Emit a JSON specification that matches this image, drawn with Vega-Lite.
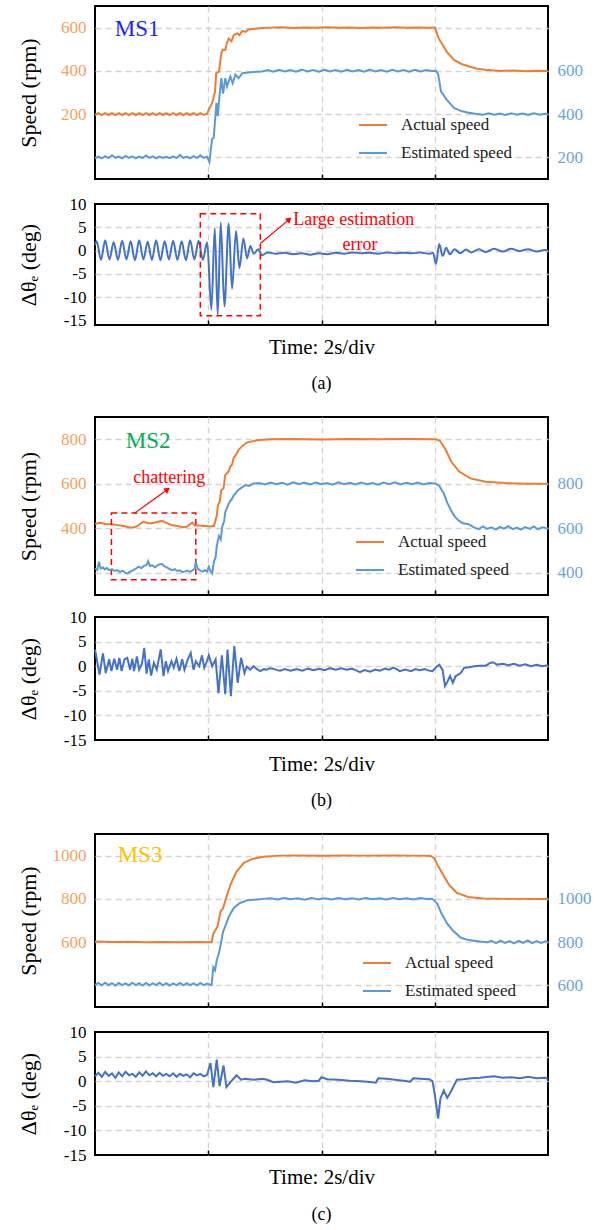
{
"$schema": "https://vega.github.io/schema/vega-lite/v6.json",
"padding": {"left": 16, "top": 5, "right": 5, "bottom": 5},
"config": {
 "font": "Liberation Serif",
 "view": {"stroke": "#000000", "strokeWidth": 2},
 "axis": {"domain": false, "ticks": false, "gridColor": "#D4D4D4", "gridDash": [6, 4], "gridWidth": 1.3, "labelFont": "Liberation Serif", "labelFontSize": 17, "labelColor": "#000000", "titleFont": "Liberation Serif", "titleFontSize": 22, "titleFontWeight": "normal", "titleColor": "#000000", "labelPadding": 9, "labelOverlap": false, "format": "d"},
 "axisX": {"ticks": true, "tickSize": -5, "tickColor": "#000000", "tickWidth": 1.5},
 "axisLeft": {"minExtent": 38, "maxExtent": 38, "titlePadding": 17},
 "legend": {"labelFont": "Liberation Serif", "labelFontSize": 17, "labelColor": "#222222", "symbolType": "stroke", "symbolSize": 784, "symbolStrokeWidth": 2, "labelOffset": 13, "rowPadding": 5, "padding": 0},
 "title": {"font": "Liberation Serif", "fontWeight": "normal", "fontSize": 18, "color": "#000000"},
 "line": {"strokeWidth": 2}
},
"datasets": {
 "aA": [{"t":0,"v":196},{"t":0.06,"v":204},{"t":0.12,"v":195},{"t":0.18,"v":205},{"t":0.24,"v":196},{"t":0.30,"v":204},{"t":0.36,"v":195},{"t":0.42,"v":205},{"t":0.48,"v":196},{"t":0.54,"v":204},{"t":0.60,"v":195},{"t":0.66,"v":205},{"t":0.72,"v":196},{"t":0.78,"v":204},{"t":0.84,"v":195},{"t":0.90,"v":205},{"t":0.96,"v":196},{"t":1.02,"v":204},{"t":1.08,"v":195},{"t":1.14,"v":205},{"t":1.20,"v":196},{"t":1.26,"v":204},{"t":1.32,"v":195},{"t":1.38,"v":205},{"t":1.44,"v":196},{"t":1.50,"v":204},{"t":1.56,"v":195},{"t":1.62,"v":205},{"t":1.68,"v":196},{"t":1.74,"v":204},{"t":1.80,"v":195},{"t":1.86,"v":205},{"t":1.92,"v":197},{"t":1.98,"v":201},{"t":2.01,"v":221},{"t":2.07,"v":252},{"t":2.12,"v":305},{"t":2.14,"v":389},{"t":2.19,"v":397},{"t":2.23,"v":481},{"t":2.26,"v":499},{"t":2.30,"v":496},{"t":2.33,"v":530},{"t":2.36,"v":550},{"t":2.41,"v":537},{"t":2.45,"v":565},{"t":2.51,"v":573},{"t":2.55,"v":565},{"t":2.60,"v":585},{"t":2.66,"v":580},{"t":2.71,"v":591},{"t":2.83,"v":595},{"t":2.95,"v":598},{"t":3.07,"v":600},{"t":3.3,"v":602},{"t":3.5,"v":598},{"t":3.7,"v":601},{"t":3.9,"v":599},{"t":4.1,"v":602},{"t":4.3,"v":599},{"t":4.5,"v":601},{"t":4.7,"v":598},{"t":4.9,"v":601},{"t":5.1,"v":599},{"t":5.3,"v":602},{"t":5.5,"v":599},{"t":5.7,"v":601},{"t":5.9,"v":599},{"t":6.0,"v":600},{"t":6.07,"v":550},{"t":6.21,"v":489},{"t":6.34,"v":451},{"t":6.47,"v":432},{"t":6.61,"v":420},{"t":6.75,"v":410},{"t":6.89,"v":405},{"t":7.16,"v":400},{"t":7.4,"v":402},{"t":7.6,"v":398},{"t":7.8,"v":401},{"t":8.0,"v":399}],
 "aE": [{"t":0,"v":196},{"t":0.06,"v":203},{"t":0.12,"v":195},{"t":0.18,"v":206},{"t":0.24,"v":197},{"t":0.30,"v":210},{"t":0.36,"v":198},{"t":0.42,"v":204},{"t":0.48,"v":196},{"t":0.54,"v":207},{"t":0.60,"v":198},{"t":0.66,"v":205},{"t":0.72,"v":195},{"t":0.78,"v":204},{"t":0.84,"v":197},{"t":0.90,"v":209},{"t":0.96,"v":198},{"t":1.02,"v":205},{"t":1.08,"v":196},{"t":1.14,"v":204},{"t":1.20,"v":197},{"t":1.26,"v":203},{"t":1.32,"v":196},{"t":1.38,"v":205},{"t":1.44,"v":197},{"t":1.50,"v":212},{"t":1.56,"v":197},{"t":1.62,"v":204},{"t":1.68,"v":196},{"t":1.74,"v":206},{"t":1.80,"v":197},{"t":1.86,"v":210},{"t":1.92,"v":198},{"t":1.98,"v":203},{"t":2.02,"v":178},{"t":2.067,"v":284},{"t":2.097,"v":292},{"t":2.144,"v":452},{"t":2.168,"v":391},{"t":2.197,"v":482},{"t":2.232,"v":566},{"t":2.261,"v":495},{"t":2.302,"v":566},{"t":2.332,"v":528},{"t":2.39,"v":574},{"t":2.432,"v":543},{"t":2.479,"v":582},{"t":2.538,"v":566},{"t":2.60,"v":589},{"t":2.714,"v":592},{"t":2.85,"v":596},{"t":2.95,"v":597},{"t":3.05,"v":604},{"t":3.15,"v":596},{"t":3.25,"v":605},{"t":3.35,"v":597},{"t":3.45,"v":604},{"t":3.55,"v":596},{"t":3.65,"v":606},{"t":3.75,"v":597},{"t":3.85,"v":604},{"t":3.95,"v":596},{"t":4.05,"v":605},{"t":4.15,"v":597},{"t":4.25,"v":604},{"t":4.35,"v":596},{"t":4.45,"v":605},{"t":4.55,"v":597},{"t":4.65,"v":604},{"t":4.75,"v":596},{"t":4.85,"v":606},{"t":4.95,"v":597},{"t":5.05,"v":604},{"t":5.15,"v":596},{"t":5.25,"v":605},{"t":5.35,"v":597},{"t":5.45,"v":604},{"t":5.55,"v":596},{"t":5.65,"v":605},{"t":5.75,"v":597},{"t":5.85,"v":604},{"t":5.95,"v":600},{"t":6.02,"v":601},{"t":6.06,"v":585},{"t":6.11,"v":505},{"t":6.21,"v":467},{"t":6.34,"v":429},{"t":6.47,"v":414},{"t":6.6,"v":406},{"t":6.74,"v":401},{"t":6.85,"v":397},{"t":6.95,"v":404},{"t":7.05,"v":397},{"t":7.15,"v":403},{"t":7.25,"v":396},{"t":7.35,"v":404},{"t":7.45,"v":397},{"t":7.55,"v":403},{"t":7.65,"v":396},{"t":7.75,"v":404},{"t":7.85,"v":397},{"t":7.95,"v":402},{"t":8.0,"v":399}],
 "aD": [{"t":0,"e":1.2},{"t":0.03,"e":2.0},{"t":0.105,"e":-2.0},{"t":0.18,"e":2.2},{"t":0.255,"e":-1.9},{"t":0.33,"e":1.8},{"t":0.405,"e":-2.0},{"t":0.48,"e":2.1},{"t":0.555,"e":-1.9},{"t":0.63,"e":2.0},{"t":0.705,"e":-2.1},{"t":0.78,"e":2.2},{"t":0.855,"e":-1.9},{"t":0.93,"e":1.9},{"t":1.005,"e":-2.0},{"t":1.08,"e":2.2},{"t":1.155,"e":-2.1},{"t":1.23,"e":2.0},{"t":1.305,"e":-1.9},{"t":1.38,"e":2.1},{"t":1.455,"e":-2.0},{"t":1.53,"e":2.0},{"t":1.605,"e":-2.1},{"t":1.68,"e":2.2},{"t":1.755,"e":-1.9},{"t":1.83,"e":2.1},{"t":1.905,"e":-2.0},{"t":1.98,"e":1.8},{"t":2.055,"e":-12.7},{"t":2.115,"e":4.8},{"t":2.167,"e":-13.8},{"t":2.22,"e":6.0},{"t":2.285,"e":-12.0},{"t":2.361,"e":5.8},{"t":2.42,"e":-8.2},{"t":2.491,"e":4.2},{"t":2.55,"e":-3.8},{"t":2.621,"e":2.6},{"t":2.685,"e":-1.7},{"t":2.744,"e":1.0},{"t":2.803,"e":-0.7},{"t":2.88,"e":0.3},{"t":2.951,"e":-1.0},{"t":3.05,"e":-0.4},{"t":3.2,"e":-0.7},{"t":3.35,"e":-0.5},{"t":3.5,"e":-0.8},{"t":3.65,"e":-0.6},{"t":3.8,"e":-0.9},{"t":3.95,"e":-0.6},{"t":4.1,"e":-0.8},{"t":4.25,"e":-0.5},{"t":4.4,"e":-0.7},{"t":4.55,"e":-0.4},{"t":4.7,"e":-0.6},{"t":4.85,"e":-0.5},{"t":5.0,"e":-0.7},{"t":5.15,"e":-0.4},{"t":5.3,"e":-0.6},{"t":5.45,"e":-0.5},{"t":5.6,"e":-0.6},{"t":5.75,"e":-0.4},{"t":5.9,"e":-0.7},{"t":5.97,"e":-0.5},{"t":6.02,"e":-2.9},{"t":6.08,"e":1.4},{"t":6.14,"e":-1.2},{"t":6.2,"e":0.6},{"t":6.27,"e":-0.8},{"t":6.35,"e":0.3},{"t":6.45,"e":-0.6},{"t":6.55,"e":0.2},{"t":6.65,"e":-0.4},{"t":6.78,"e":0.3},{"t":6.9,"e":-0.3},{"t":7.05,"e":0.4},{"t":7.2,"e":-0.2},{"t":7.35,"e":0.4},{"t":7.5,"e":-0.1},{"t":7.65,"e":0.3},{"t":7.8,"e":-0.2},{"t":7.95,"e":0.1},{"t":8.0,"e":0.0}],
 "bA": [{"t":0,"v":420},{"t":0.1,"v":425},{"t":0.2,"v":418},{"t":0.3,"v":418},{"t":0.4,"v":414},{"t":0.5,"v":410},{"t":0.6,"v":405},{"t":0.67,"v":403},{"t":0.75,"v":410},{"t":0.8,"v":420},{"t":0.86,"v":430},{"t":0.92,"v":424},{"t":1.0,"v":422},{"t":1.1,"v":428},{"t":1.18,"v":433},{"t":1.25,"v":425},{"t":1.35,"v":415},{"t":1.45,"v":410},{"t":1.55,"v":405},{"t":1.62,"v":407},{"t":1.68,"v":418},{"t":1.72,"v":425},{"t":1.76,"v":412},{"t":1.85,"v":412},{"t":1.95,"v":410},{"t":2.05,"v":408},{"t":2.10,"v":411},{"t":2.15,"v":456},{"t":2.17,"v":502},{"t":2.20,"v":517},{"t":2.23,"v":571},{"t":2.27,"v":579},{"t":2.30,"v":640},{"t":2.36,"v":655},{"t":2.39,"v":678},{"t":2.42,"v":685},{"t":2.45,"v":716},{"t":2.51,"v":739},{"t":2.54,"v":754},{"t":2.60,"v":769},{"t":2.68,"v":785},{"t":2.86,"v":795},{"t":3.09,"v":800},{"t":3.5,"v":801},{"t":4.0,"v":799},{"t":4.5,"v":801},{"t":5.0,"v":800},{"t":5.5,"v":801},{"t":5.95,"v":800},{"t":6.02,"v":800},{"t":6.09,"v":793},{"t":6.19,"v":754},{"t":6.29,"v":700},{"t":6.43,"v":655},{"t":6.63,"v":624},{"t":6.90,"v":609},{"t":7.24,"v":603},{"t":7.6,"v":600},{"t":8.0,"v":600}],
 "bE": [{"t":0,"v":419},{"t":0.04,"v":412},{"t":0.07,"v":450},{"t":0.1,"v":418},{"t":0.14,"v":424},{"t":0.17,"v":415},{"t":0.21,"v":421},{"t":0.25,"v":412},{"t":0.3,"v":416},{"t":0.34,"v":408},{"t":0.39,"v":412},{"t":0.44,"v":404},{"t":0.49,"v":409},{"t":0.53,"v":400},{"t":0.57,"v":396},{"t":0.62,"v":405},{"t":0.67,"v":411},{"t":0.72,"v":418},{"t":0.77,"v":427},{"t":0.82,"v":421},{"t":0.87,"v":432},{"t":0.91,"v":434},{"t":0.94,"v":452},{"t":0.97,"v":430},{"t":1.01,"v":433},{"t":1.06,"v":425},{"t":1.12,"v":436},{"t":1.18,"v":440},{"t":1.22,"v":430},{"t":1.27,"v":424},{"t":1.31,"v":418},{"t":1.36,"v":412},{"t":1.41,"v":416},{"t":1.45,"v":408},{"t":1.5,"v":411},{"t":1.54,"v":403},{"t":1.58,"v":405},{"t":1.63,"v":410},{"t":1.68,"v":404},{"t":1.72,"v":410},{"t":1.76,"v":418},{"t":1.78,"v":450},{"t":1.81,"v":420},{"t":1.85,"v":411},{"t":1.9,"v":405},{"t":1.94,"v":412},{"t":1.98,"v":406},{"t":2.01,"v":427},{"t":2.04,"v":408},{"t":2.07,"v":397},{"t":2.10,"v":450},{"t":2.13,"v":470},{"t":2.15,"v":519},{"t":2.17,"v":545},{"t":2.19,"v":565},{"t":2.22,"v":550},{"t":2.25,"v":611},{"t":2.28,"v":630},{"t":2.30,"v":672},{"t":2.33,"v":690},{"t":2.36,"v":710},{"t":2.39,"v":722},{"t":2.42,"v":733},{"t":2.45,"v":748},{"t":2.48,"v":756},{"t":2.52,"v":770},{"t":2.57,"v":779},{"t":2.62,"v":788},{"t":2.66,"v":794},{"t":2.72,"v":790},{"t":2.80,"v":801},{"t":2.9,"v":803},{"t":3.0,"v":797},{"t":3.1,"v":805},{"t":3.2,"v":798},{"t":3.3,"v":804},{"t":3.4,"v":796},{"t":3.5,"v":806},{"t":3.6,"v":799},{"t":3.7,"v":804},{"t":3.8,"v":797},{"t":3.9,"v":805},{"t":4.0,"v":798},{"t":4.1,"v":803},{"t":4.2,"v":796},{"t":4.3,"v":806},{"t":4.4,"v":798},{"t":4.5,"v":804},{"t":4.6,"v":797},{"t":4.7,"v":805},{"t":4.8,"v":798},{"t":4.9,"v":803},{"t":5.0,"v":796},{"t":5.1,"v":805},{"t":5.2,"v":798},{"t":5.3,"v":806},{"t":5.4,"v":797},{"t":5.5,"v":804},{"t":5.6,"v":798},{"t":5.7,"v":805},{"t":5.8,"v":797},{"t":5.9,"v":803},{"t":6.02,"v":800},{"t":6.08,"v":790},{"t":6.16,"v":756},{"t":6.22,"v":715},{"t":6.29,"v":679},{"t":6.36,"v":650},{"t":6.43,"v":633},{"t":6.50,"v":622},{"t":6.60,"v":618},{"t":6.70,"v":603},{"t":6.78,"v":596},{"t":6.85,"v":608},{"t":6.92,"v":597},{"t":7.0,"v":604},{"t":7.08,"v":594},{"t":7.15,"v":606},{"t":7.22,"v":598},{"t":7.3,"v":609},{"t":7.38,"v":596},{"t":7.45,"v":603},{"t":7.52,"v":594},{"t":7.6,"v":605},{"t":7.68,"v":597},{"t":7.75,"v":608},{"t":7.82,"v":595},{"t":7.9,"v":604},{"t":8.0,"v":599}],
 "bD": [{"t":0,"e":3.4},{"t":0.08,"e":-1.7},{"t":0.14,"e":2.6},{"t":0.19,"e":-1.4},{"t":0.25,"e":1.4},{"t":0.29,"e":-1.0},{"t":0.34,"e":1.5},{"t":0.39,"e":-0.7},{"t":0.43,"e":1.7},{"t":0.47,"e":-1.0},{"t":0.52,"e":1.4},{"t":0.57,"e":1.7},{"t":0.62,"e":-0.7},{"t":0.66,"e":1.5},{"t":0.69,"e":-1.0},{"t":0.74,"e":2.0},{"t":0.78,"e":-0.7},{"t":0.83,"e":0.5},{"t":0.87,"e":3.7},{"t":0.91,"e":-1.5},{"t":0.95,"e":1.4},{"t":0.99,"e":-1.9},{"t":1.04,"e":0.7},{"t":1.09,"e":-0.7},{"t":1.16,"e":3.4},{"t":1.21,"e":-2.0},{"t":1.25,"e":1.0},{"t":1.29,"e":-1.0},{"t":1.35,"e":1.0},{"t":1.39,"e":-0.3},{"t":1.44,"e":1.5},{"t":1.49,"e":-1.0},{"t":1.54,"e":1.4},{"t":1.58,"e":-0.7},{"t":1.64,"e":1.4},{"t":1.69,"e":2.7},{"t":1.74,"e":-0.7},{"t":1.78,"e":1.0},{"t":1.84,"e":0.0},{"t":1.89,"e":2.2},{"t":1.93,"e":-0.3},{"t":1.97,"e":0.8},{"t":2.01,"e":2.2},{"t":2.07,"e":0.0},{"t":2.13,"e":1.4},{"t":2.18,"e":-5.5},{"t":2.24,"e":2.2},{"t":2.30,"e":-5.7},{"t":2.34,"e":3.4},{"t":2.40,"e":-6.1},{"t":2.46,"e":4.1},{"t":2.52,"e":-3.4},{"t":2.58,"e":1.7},{"t":2.64,"e":-1.4},{"t":2.68,"e":-0.1},{"t":2.74,"e":-0.7},{"t":2.80,"e":0.0},{"t":2.86,"e":-0.6},{"t":2.92,"e":-1.0},{"t":2.98,"e":-0.6},{"t":3.03,"e":-0.7},{"t":3.09,"e":-0.4},{"t":3.15,"e":-0.5},{"t":3.21,"e":-0.8},{"t":3.27,"e":-0.9},{"t":3.35,"e":-0.6},{"t":3.45,"e":-0.9},{"t":3.56,"e":-0.6},{"t":3.66,"e":-0.9},{"t":3.76,"e":-0.5},{"t":3.86,"e":-0.8},{"t":3.96,"e":-0.5},{"t":4.06,"e":-0.8},{"t":4.15,"e":-0.4},{"t":4.25,"e":-0.7},{"t":4.35,"e":-0.4},{"t":4.44,"e":-0.7},{"t":4.54,"e":-0.5},{"t":4.62,"e":-0.9},{"t":4.68,"e":-1.2},{"t":4.76,"e":-0.8},{"t":4.86,"e":-1.1},{"t":4.95,"e":-0.7},{"t":5.03,"e":-0.9},{"t":5.12,"e":-0.5},{"t":5.2,"e":-0.7},{"t":5.26,"e":-0.3},{"t":5.33,"e":-0.6},{"t":5.38,"e":-1.0},{"t":5.48,"e":-0.7},{"t":5.58,"e":-1.0},{"t":5.66,"e":-0.6},{"t":5.73,"e":-0.8},{"t":5.82,"e":-0.6},{"t":5.9,"e":-0.9},{"t":5.96,"e":-1.0},{"t":6.04,"e":0.0},{"t":6.08,"e":0.3},{"t":6.14,"e":-0.8},{"t":6.18,"e":-4.0},{"t":6.23,"e":-3.0},{"t":6.27,"e":-2.0},{"t":6.32,"e":-3.4},{"t":6.37,"e":-2.0},{"t":6.46,"e":-1.4},{"t":6.52,"e":-0.3},{"t":6.61,"e":-0.2},{"t":6.70,"e":0.0},{"t":6.78,"e":0.1},{"t":6.9,"e":0.1},{"t":6.97,"e":0.6},{"t":7.03,"e":0.8},{"t":7.1,"e":0.3},{"t":7.2,"e":0.5},{"t":7.3,"e":0.2},{"t":7.4,"e":0.5},{"t":7.5,"e":0.1},{"t":7.6,"e":0.4},{"t":7.7,"e":0.0},{"t":7.8,"e":0.3},{"t":7.9,"e":0.0},{"t":8.0,"e":0.2}],
 "cA": [{"t":0,"v":603},{"t":0.3,"v":601},{"t":0.6,"v":602},{"t":0.9,"v":600},{"t":1.2,"v":601},{"t":1.5,"v":600},{"t":1.8,"v":601},{"t":2.06,"v":600},{"t":2.09,"v":639},{"t":2.16,"v":670},{"t":2.22,"v":744},{"t":2.26,"v":755},{"t":2.33,"v":817},{"t":2.40,"v":871},{"t":2.50,"v":926},{"t":2.63,"v":967},{"t":2.77,"v":984},{"t":2.97,"v":995},{"t":3.24,"v":1000},{"t":3.6,"v":1001},{"t":4.0,"v":999},{"t":4.4,"v":1001},{"t":4.8,"v":1000},{"t":5.2,"v":1001},{"t":5.6,"v":1000},{"t":5.92,"v":1000},{"t":5.99,"v":988},{"t":6.05,"v":957},{"t":6.15,"v":910},{"t":6.255,"v":864},{"t":6.39,"v":828},{"t":6.59,"v":809},{"t":6.86,"v":802},{"t":7.3,"v":800},{"t":8.0,"v":800}],
 "cE": [{"t":0,"v":602},{"t":0.06,"v":611},{"t":0.12,"v":600},{"t":0.18,"v":612},{"t":0.24,"v":601},{"t":0.30,"v":610},{"t":0.36,"v":599},{"t":0.42,"v":611},{"t":0.48,"v":601},{"t":0.54,"v":609},{"t":0.60,"v":600},{"t":0.66,"v":612},{"t":0.72,"v":601},{"t":0.78,"v":610},{"t":0.84,"v":599},{"t":0.90,"v":611},{"t":0.96,"v":600},{"t":1.02,"v":609},{"t":1.08,"v":601},{"t":1.14,"v":612},{"t":1.20,"v":600},{"t":1.26,"v":610},{"t":1.32,"v":599},{"t":1.38,"v":609},{"t":1.44,"v":601},{"t":1.50,"v":611},{"t":1.56,"v":600},{"t":1.62,"v":610},{"t":1.68,"v":601},{"t":1.74,"v":609},{"t":1.80,"v":600},{"t":1.86,"v":611},{"t":1.92,"v":601},{"t":1.98,"v":608},{"t":2.04,"v":603},{"t":2.06,"v":602},{"t":2.09,"v":684},{"t":2.12,"v":670},{"t":2.15,"v":715},{"t":2.20,"v":761},{"t":2.26,"v":847},{"t":2.31,"v":880},{"t":2.36,"v":916},{"t":2.41,"v":940},{"t":2.46,"v":960},{"t":2.56,"v":981},{"t":2.70,"v":994},{"t":2.97,"v":1000},{"t":3.1,"v":1003},{"t":3.22,"v":997},{"t":3.34,"v":1004},{"t":3.46,"v":998},{"t":3.58,"v":1003},{"t":3.7,"v":996},{"t":3.82,"v":1004},{"t":3.94,"v":998},{"t":4.06,"v":1003},{"t":4.18,"v":997},{"t":4.3,"v":1004},{"t":4.42,"v":998},{"t":4.54,"v":1003},{"t":4.66,"v":997},{"t":4.78,"v":1004},{"t":4.9,"v":998},{"t":5.02,"v":1003},{"t":5.14,"v":997},{"t":5.26,"v":1004},{"t":5.38,"v":998},{"t":5.5,"v":1003},{"t":5.62,"v":997},{"t":5.74,"v":1004},{"t":5.86,"v":999},{"t":5.95,"v":1000},{"t":5.99,"v":994},{"t":6.05,"v":975},{"t":6.12,"v":932},{"t":6.22,"v":885},{"t":6.32,"v":854},{"t":6.46,"v":820},{"t":6.56,"v":812},{"t":6.66,"v":808},{"t":6.8,"v":803},{"t":6.93,"v":800},{"t":7.0,"v":806},{"t":7.08,"v":795},{"t":7.16,"v":807},{"t":7.24,"v":796},{"t":7.32,"v":805},{"t":7.4,"v":794},{"t":7.48,"v":806},{"t":7.56,"v":797},{"t":7.64,"v":808},{"t":7.72,"v":795},{"t":7.8,"v":805},{"t":7.88,"v":796},{"t":7.96,"v":804},{"t":8.0,"v":800}],
 "cD": [{"t":0,"e":1.0},{"t":0.06,"e":1.7},{"t":0.12,"e":0.9},{"t":0.18,"e":1.9},{"t":0.24,"e":1.1},{"t":0.3,"e":1.6},{"t":0.36,"e":0.7},{"t":0.42,"e":1.8},{"t":0.48,"e":1.0},{"t":0.54,"e":1.9},{"t":0.6,"e":1.2},{"t":0.66,"e":1.5},{"t":0.72,"e":0.9},{"t":0.78,"e":1.8},{"t":0.84,"e":1.1},{"t":0.9,"e":2.0},{"t":0.96,"e":1.2},{"t":1.02,"e":1.6},{"t":1.08,"e":1.0},{"t":1.14,"e":1.7},{"t":1.2,"e":1.1},{"t":1.26,"e":1.5},{"t":1.32,"e":1.0},{"t":1.38,"e":1.6},{"t":1.44,"e":0.9},{"t":1.5,"e":1.5},{"t":1.56,"e":1.1},{"t":1.62,"e":1.4},{"t":1.68,"e":0.8},{"t":1.74,"e":1.6},{"t":1.8,"e":1.2},{"t":1.86,"e":1.5},{"t":1.92,"e":1.0},{"t":1.98,"e":1.3},{"t":2.04,"e":3.7},{"t":2.09,"e":-1.2},{"t":2.15,"e":4.4},{"t":2.20,"e":-1.0},{"t":2.27,"e":3.2},{"t":2.32,"e":-1.2},{"t":2.40,"e":-0.1},{"t":2.50,"e":1.2},{"t":2.58,"e":0.3},{"t":2.65,"e":0.5},{"t":2.8,"e":0.3},{"t":2.95,"e":0.5},{"t":3.04,"e":0.3},{"t":3.15,"e":-0.2},{"t":3.28,"e":-0.1},{"t":3.4,"e":0.0},{"t":3.55,"e":-0.3},{"t":3.7,"e":0.2},{"t":3.85,"e":0.0},{"t":3.95,"e":0.1},{"t":4.0,"e":0.8},{"t":4.1,"e":0.4},{"t":4.3,"e":0.3},{"t":4.5,"e":0.1},{"t":4.7,"e":0.0},{"t":4.9,"e":-0.2},{"t":4.96,"e":-0.3},{"t":5.0,"e":0.6},{"t":5.15,"e":0.5},{"t":5.3,"e":0.3},{"t":5.45,"e":0.1},{"t":5.57,"e":-0.1},{"t":5.62,"e":0.6},{"t":5.75,"e":0.5},{"t":5.9,"e":0.4},{"t":5.96,"e":0.0},{"t":6.0,"e":-2.7},{"t":6.06,"e":-7.6},{"t":6.10,"e":-3.5},{"t":6.16,"e":-1.9},{"t":6.22,"e":-3.4},{"t":6.3,"e":-1.8},{"t":6.39,"e":0.3},{"t":6.5,"e":0.4},{"t":6.65,"e":0.6},{"t":6.8,"e":0.7},{"t":6.95,"e":0.9},{"t":7.05,"e":1.0},{"t":7.2,"e":0.7},{"t":7.35,"e":0.8},{"t":7.5,"e":0.6},{"t":7.65,"e":0.9},{"t":7.8,"e":0.6},{"t":7.95,"e":0.7},{"t":8.0,"e":0.4}]
},
"spacing": 22,
"resolve": {"scale": {"color": "independent"}},
"vconcat": [
 {"bounds": "flush", "spacing": 25, "resolve": {"scale": {"color": "independent"}}, "vconcat": [
  {"width": 453, "height": 173, "resolve": {"scale": {"y": "independent"}},
   "layer": [
    {"layer": [
     {"data": {"name": "aA"}, "mark": {"type": "line", "strokeWidth": 2},
      "encoding": {
       "x": {"field": "t", "type": "quantitative", "scale": {"domain": [0, 8]}, "axis": {"values": [2, 4, 6], "labels": false, "title": null}},
       "y": {"field": "v", "type": "quantitative", "scale": {"domain": [-100, 700]}, "axis": {"orient": "left", "values": [0, 100, 200, 300, 400, 500, 600], "labelExpr": "datum.value == 200 || datum.value == 400 || datum.value == 600 ? datum.label : ''", "labelColor": "#F5A25D", "title": "Speed (rpm)"}},
       "color": {"datum": "Actual speed", "type": "nominal", "scale": {"domain": ["Actual speed", "Estimated speed"], "range": ["#ED7D31", "#5B9BD5"]}, "legend": {"title": null, "orient": "none", "legendX": 263, "legendY": 104, "direction": "vertical"}}
      }},
     {"data": {"values": [{}]}, "mark": {"type": "text", "text": "MS1", "color": "#1F1FFF", "fontSize": 23, "align": "left", "baseline": "middle"},
      "encoding": {"x": {"datum": 0.35, "title": null}, "y": {"datum": 594, "title": null}}}
    ]},
    {"data": {"name": "aE"}, "mark": {"type": "line", "strokeWidth": 2},
     "encoding": {
      "x": {"field": "t", "type": "quantitative", "title": null},
      "y": {"field": "v", "type": "quantitative", "scale": {"domain": [100, 900]}, "axis": {"orient": "right", "values": [200, 400, 600], "labelColor": "#6AA6DA", "grid": false, "title": null}},
      "color": {"datum": "Estimated speed", "type": "nominal"}
     }}
   ]},
  {"width": 453, "height": 121, "title": {"text": "(a)", "orient": "bottom", "offset": 17},
   "layer": [
    {"data": {"name": "aD"}, "mark": {"type": "line", "color": "#4472C4", "strokeWidth": 2, "interpolate": "monotone"},
     "encoding": {
      "x": {"field": "t", "type": "quantitative", "scale": {"domain": [0, 8]}, "axis": {"values": [2, 4, 6], "labels": false, "title": "Time: 2s/div", "titleFontSize": 21, "titlePadding": 11}},
      "y": {"field": "e", "type": "quantitative", "scale": {"domain": [-15, 10]}, "axis": {"values": [-15, -10, -5, 0, 5, 10], "labelOverlap": false, "labelExpr": "datum.value < 0 ? '-' + (-datum.value) : '' + datum.value", "title": "Δθₑ  (deg)", "gridOpacity": {"condition": {"test": "datum.value == 10 || datum.value == -15", "value": 0}, "value": 1}}}
     }},
    {"data": {"values": [{}]}, "mark": {"type": "rect", "fillOpacity": 0, "stroke": "#FF0000", "strokeWidth": 1.5, "strokeDash": [6, 4]},
     "encoding": {"x": {"datum": 1.86, "title": null}, "x2": {"datum": 2.92}, "y": {"datum": -14.0, "title": null, "axis": {"labelOverlap": false, "values": [-15, -10, -5, 0, 5, 10]}}, "y2": {"datum": 7.9}}},
    {"data": {"values": [{}]}, "mark": {"type": "rule", "color": "#FF0000", "strokeWidth": 1.2},
     "encoding": {"x": {"datum": 2.92, "title": null}, "x2": {"datum": 3.43}, "y": {"datum": 1.5, "title": null, "axis": {"labelOverlap": false, "values": [-15, -10, -5, 0, 5, 10]}}, "y2": {"datum": 6.7}}},
    {"data": {"values": [{}]}, "mark": {"type": "point", "shape": "triangle-up", "filled": true, "color": "#FF0000", "opacity": 1, "size": 45, "angle": 49},
     "encoding": {"x": {"datum": 3.43, "title": null}, "y": {"datum": 6.7, "title": null, "axis": {"labelOverlap": false, "values": [-15, -10, -5, 0, 5, 10]}}}},
    {"data": {"values": [{}]}, "mark": {"type": "text", "text": "Large estimation", "color": "#FF0000", "fontSize": 18, "align": "left", "baseline": "middle"},
     "encoding": {"x": {"datum": 3.5, "title": null}, "y": {"datum": 6.5, "title": null, "axis": {"labelOverlap": false, "values": [-15, -10, -5, 0, 5, 10]}}}},
    {"data": {"values": [{}]}, "mark": {"type": "text", "text": "error", "color": "#FF0000", "fontSize": 18, "align": "center", "baseline": "middle"},
     "encoding": {"x": {"datum": 4.68, "title": null}, "y": {"datum": 1.25, "title": null, "axis": {"labelOverlap": false, "values": [-15, -10, -5, 0, 5, 10]}}}}
   ]}
 ]},
 {"bounds": "flush", "spacing": 22, "resolve": {"scale": {"color": "independent"}}, "vconcat": [
  {"width": 453, "height": 178, "resolve": {"scale": {"y": "independent"}},
   "layer": [
    {"layer": [
     {"data": {"name": "bA"}, "mark": {"type": "line", "strokeWidth": 2},
      "encoding": {
       "x": {"field": "t", "type": "quantitative", "scale": {"domain": [0, 8]}, "axis": {"values": [2, 4, 6], "labels": false, "title": null}},
       "y": {"field": "v", "type": "quantitative", "scale": {"domain": [100, 900]}, "axis": {"orient": "left", "values": [200, 300, 400, 500, 600, 700, 800], "labelExpr": "datum.value == 400 || datum.value == 600 || datum.value == 800 ? datum.label : ''", "labelColor": "#F5A25D", "title": "Speed (rpm)"}},
       "color": {"datum": "Actual speed", "type": "nominal", "scale": {"domain": ["Actual speed", "Estimated speed"], "range": ["#ED7D31", "#5B9BD5"]}, "legend": {"title": null, "orient": "none", "legendX": 260, "legendY": 110, "direction": "vertical"}}
      }},
     {"data": {"values": [{}]}, "mark": {"type": "text", "text": "MS2", "color": "#00B050", "fontSize": 23, "align": "left", "baseline": "middle"},
      "encoding": {"x": {"datum": 0.545, "title": null}, "y": {"datum": 794, "title": null}}},
     {"data": {"values": [{}]}, "mark": {"type": "rect", "fillOpacity": 0, "stroke": "#FF0000", "strokeWidth": 1.5, "strokeDash": [6, 4]},
      "encoding": {"x": {"datum": 0.29, "title": null}, "x2": {"datum": 1.78}, "y": {"datum": 169, "title": null}, "y2": {"datum": 468}}},
     {"data": {"values": [{}]}, "mark": {"type": "rule", "color": "#FF0000", "strokeWidth": 1.2},
      "encoding": {"x": {"datum": 0.70, "title": null}, "x2": {"datum": 1.28}, "y": {"datum": 468, "title": null}, "y2": {"datum": 574}}},
     {"data": {"values": [{}]}, "mark": {"type": "point", "shape": "triangle-up", "filled": true, "color": "#FF0000", "opacity": 1, "size": 45, "angle": 55},
      "encoding": {"x": {"datum": 1.28, "title": null}, "y": {"datum": 574, "title": null}}},
     {"data": {"values": [{}]}, "mark": {"type": "text", "text": "chattering", "color": "#FF0000", "fontSize": 18, "align": "center", "baseline": "middle"},
      "encoding": {"x": {"datum": 1.31, "title": null}, "y": {"datum": 624, "title": null}}}
    ]},
    {"data": {"name": "bE"}, "mark": {"type": "line", "strokeWidth": 2},
     "encoding": {
      "x": {"field": "t", "type": "quantitative", "title": null},
      "y": {"field": "v", "type": "quantitative", "scale": {"domain": [300, 1100]}, "axis": {"orient": "right", "values": [400, 600, 800], "labelColor": "#6AA6DA", "grid": false, "title": null}},
      "color": {"datum": "Estimated speed", "type": "nominal"}
     }}
   ]},
  {"width": 453, "height": 123, "title": {"text": "(b)", "orient": "bottom", "offset": 17},
   "layer": [
    {"data": {"name": "bD"}, "mark": {"type": "line", "color": "#4472C4", "strokeWidth": 2},
     "encoding": {
      "x": {"field": "t", "type": "quantitative", "scale": {"domain": [0, 8]}, "axis": {"values": [2, 4, 6], "labels": false, "title": "Time: 2s/div", "titleFontSize": 21, "titlePadding": 13}},
      "y": {"field": "e", "type": "quantitative", "scale": {"domain": [-15, 10]}, "axis": {"values": [-15, -10, -5, 0, 5, 10], "labelOverlap": false, "labelExpr": "datum.value < 0 ? '-' + (-datum.value) : '' + datum.value", "title": "Δθₑ  (deg)", "gridOpacity": {"condition": {"test": "datum.value == 10 || datum.value == -15", "value": 0}, "value": 1}}}
     }}
   ]}
 ]},
 {"bounds": "flush", "spacing": 25, "resolve": {"scale": {"color": "independent"}}, "vconcat": [
  {"width": 453, "height": 173, "resolve": {"scale": {"y": "independent"}},
   "layer": [
    {"layer": [
     {"data": {"name": "cA"}, "mark": {"type": "line", "strokeWidth": 2},
      "encoding": {
       "x": {"field": "t", "type": "quantitative", "scale": {"domain": [0, 8]}, "axis": {"values": [2, 4, 6], "labels": false, "title": null}},
       "y": {"field": "v", "type": "quantitative", "scale": {"domain": [300, 1100]}, "axis": {"orient": "left", "values": [400, 500, 600, 700, 800, 900, 1000], "labelExpr": "datum.value == 600 || datum.value == 800 || datum.value == 1000 ? datum.label : ''", "labelColor": "#F5A25D", "title": "Speed (rpm)"}},
       "color": {"datum": "Actual speed", "type": "nominal", "scale": {"domain": ["Actual speed", "Estimated speed"], "range": ["#ED7D31", "#5B9BD5"]}, "legend": {"title": null, "orient": "none", "legendX": 267, "legendY": 114, "direction": "vertical"}}
      }},
     {"data": {"values": [{}]}, "mark": {"type": "text", "text": "MS3", "color": "#FFC000", "fontSize": 23, "align": "left", "baseline": "middle"},
      "encoding": {"x": {"datum": 0.40, "title": null}, "y": {"datum": 1003, "title": null}}}
    ]},
    {"data": {"name": "cE"}, "mark": {"type": "line", "strokeWidth": 2},
     "encoding": {
      "x": {"field": "t", "type": "quantitative", "title": null},
      "y": {"field": "v", "type": "quantitative", "scale": {"domain": [500, 1300]}, "axis": {"orient": "right", "values": [600, 800, 1000], "labelColor": "#6AA6DA", "grid": false, "title": null}},
      "color": {"datum": "Estimated speed", "type": "nominal"}
     }}
   ]},
  {"width": 453, "height": 123, "title": {"text": "(c)", "orient": "bottom", "offset": 18},
   "layer": [
    {"data": {"name": "cD"}, "mark": {"type": "line", "color": "#4472C4", "strokeWidth": 2},
     "encoding": {
      "x": {"field": "t", "type": "quantitative", "scale": {"domain": [0, 8]}, "axis": {"values": [2, 4, 6], "labels": false, "title": "Time: 2s/div", "titleFontSize": 21, "titlePadding": 11}},
      "y": {"field": "e", "type": "quantitative", "scale": {"domain": [-15, 10]}, "axis": {"values": [-15, -10, -5, 0, 5, 10], "labelOverlap": false, "labelExpr": "datum.value < 0 ? '-' + (-datum.value) : '' + datum.value", "title": "Δθₑ  (deg)", "gridOpacity": {"condition": {"test": "datum.value == 10 || datum.value == -15", "value": 0}, "value": 1}}}
     }}
   ]}
 ]}
]
}
